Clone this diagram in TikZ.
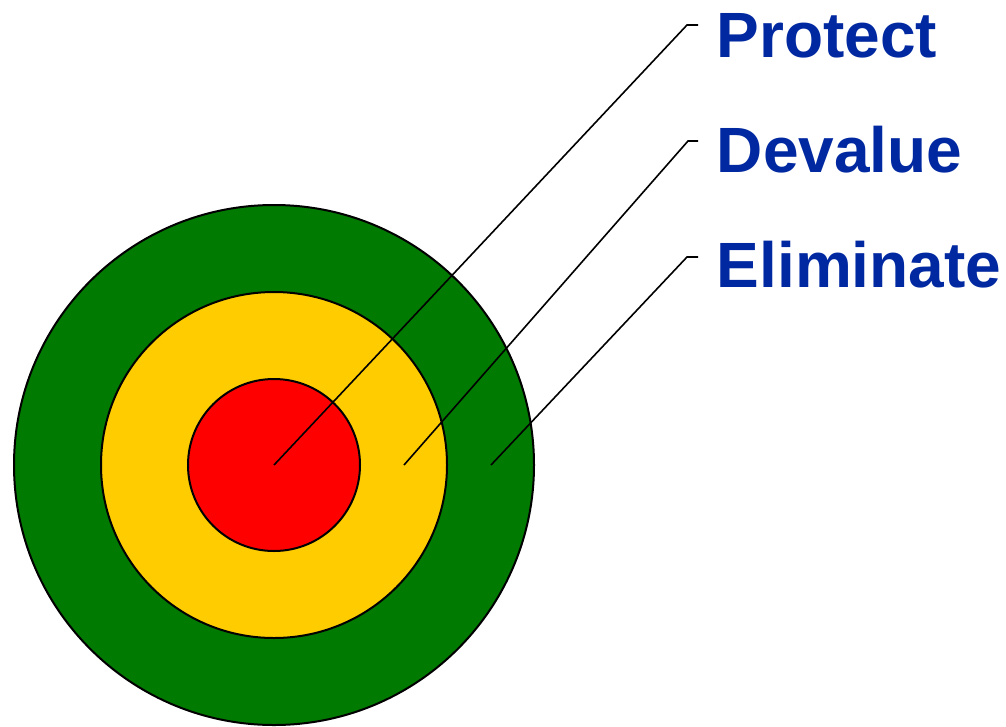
\documentclass[tikz,border=0pt]{standalone}
\usepackage{fontspec}
\setmainfont{Liberation Sans}
\definecolor{ringgreen}{RGB}{0,122,0}
\definecolor{ringyellow}{RGB}{255,204,0}
\definecolor{ringred}{RGB}{255,0,0}
\definecolor{tagblue}{RGB}{0,40,160}
\tikzset{
  ring/.style={draw,shape=circle,inner sep=0pt,line width=2pt},
  tag/.style={anchor=base west,inner sep=0pt,text=tagblue,
    font=\fontsize{64}{64}\selectfont\bfseries},
}
\begin{document}
\begin{tikzpicture}[x=1pt,y=-1pt,line width=1.6pt]
      \useasboundingbox (0,0) rectangle (1006,726);

      % the three rings
      \path (274,465) node[ring,fill=ringgreen,minimum size=520pt] (outer)  {};
      \path (274,465) node[ring,fill=ringyellow,minimum size=346pt] (middle) {};
      \path (274,465) node[ring,fill=ringred,minimum size=172pt] (inner)  {};

      % where the leaders start and bend
      \coordinate (p0) at (274,465);
      \coordinate (d0) at (404,465);
      \coordinate (e0) at (491,465);
      \coordinate (p1) at (687,25);
      \coordinate (d1) at (688,141);
      \coordinate (e1) at (687,257);
      \coordinate (p2) at (698,25);
      \coordinate (d2) at (698,141);
      \coordinate (e2) at (698,257);

      \path (716,57)  node[tag] (protect)   {Protect};
      \path (716,172) node[tag] (devalue)   {Devalue};
      \path (716,287) node[tag] (eliminate) {Eliminate};

      \draw (p0) -- (p1) -- (p2);
      \draw (d0) -- (d1) -- (d2);
      \draw (e0) -- (e1) -- (e2);
   \end{tikzpicture}
\end{document}
